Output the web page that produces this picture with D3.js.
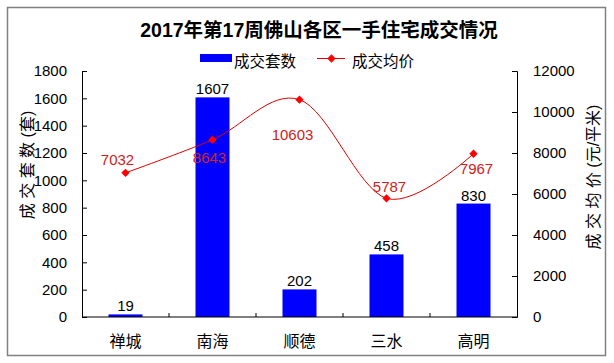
<!DOCTYPE html>
<html>
<head>
<meta charset="utf-8">
<script src="https://cdn.jsdelivr.net/npm/d3@7"></script>
<style>
  body { margin: 0; background: #fff; }
  text { font-family: "Liberation Sans", Arial, "Noto Sans CJK SC", sans-serif; }
</style>
</head>
<body>
<svg id="chart" width="614" height="363"></svg>
<script>
// data
let districts = ['禅城', '南海', '顺德', '三水', '高明'];
let deals = [19, 1607, 202, 458, 830];
let avgPrice = [7032, 8643, 10603, 5787, 7967];
let dealTicks = [0, 200, 400, 600, 800, 1000, 1200, 1400, 1600, 1800];
let priceTicks = [0, 2000, 4000, 6000, 8000, 10000, 12000];

let svg = d3.select('#chart');
let plotLeft = 82, plotRight = 517, plotTop = 71, plotBottom = 317;

// outer frame
svg.append('rect')
  .attr('x', 7.5).attr('y', 7.5)
  .attr('width', 598).attr('height', 348)
  .attr('fill', '#fff')
  .attr('stroke', '#808080')
  .attr('stroke-width', 1.5);

let x = d3.scaleBand()
  .domain(districts)
  .range([plotLeft, plotRight]);
let yDeal = d3.scaleLinear()
  .domain([0, 1800])
  .range([plotBottom, plotTop]);
let yPrice = d3.scaleLinear()
  .domain([0, 12000])
  .range([plotBottom, plotTop]);

// title
svg.append('text')
  .attr('x', 319).attr('y', 37)
  .attr('text-anchor', 'middle')
  .attr('font-size', 19.5)
  .attr('font-weight', 'bold')
  .text('2017年第17周佛山各区一手住宅成交情况');

// legend
let lg = svg.append('g');
lg.append('rect').attr('x', 200).attr('y', 54).attr('width', 32).attr('height', 8).attr('fill', '#0000ff');
lg.append('text').attr('x', 234).attr('y', 67).attr('font-size', 15.5).text('成交套数');
lg.append('line').attr('x1', 317).attr('x2', 345).attr('y1', 58.5).attr('y2', 58.5)
  .attr('stroke', '#e00000').attr('stroke-width', 1);
lg.append('path').attr('d', d3.symbol(d3.symbolDiamond2, 45)())
  .attr('transform', 'translate(331.5,58.5)').attr('fill', '#ff0000');
lg.append('text').attr('x', 352).attr('y', 67).attr('font-size', 15.5).text('成交均价');

// bars
let barW = 34;
svg.append('g')
  .selectAll('rect')
  .data(deals)
  .join('rect')
  .attr('x', function(d,i){return x(districts[i]) + x.bandwidth()/2 - barW/2})
  .attr('y', function(d){return yDeal(d)})
  .attr('width', barW)
  .attr('height', function(d){return plotBottom - yDeal(d)})
  .attr('fill', '#0000ff');

svg.append('g')
  .selectAll('text')
  .data(deals)
  .join('text')
  .attr('x', function(d,i){return x(districts[i]) + x.bandwidth()/2})
  .attr('y', function(d){return yDeal(d) - 3})
  .attr('text-anchor', 'middle')
  .attr('font-size', 15)
  .attr('fill', '#000')
  .text(function(d){return d});

// axes
let axL = svg.append('g')
  .attr('transform', 'translate(' + plotLeft + ',0)')
  .call(d3.axisRight(yDeal).tickValues(dealTicks).tickSize(5).tickFormat(d3.format('d')));
axL.selectAll('text').attr('x', -15).attr('text-anchor', 'end');
let axR = svg.append('g')
  .attr('transform', 'translate(' + plotRight + ',0)')
  .call(d3.axisLeft(yPrice).tickValues(priceTicks).tickSize(5).tickFormat(d3.format('d')));
axR.selectAll('text').attr('x', 16).attr('text-anchor', 'start');
[axL, axR].forEach(function(ax) {
  ax.select('.domain').attr('stroke', '#000');
  ax.selectAll('line').attr('stroke', '#000');
  ax.selectAll('text').attr('font-size', 15).attr('fill', '#000')
    .attr('font-family', '"Liberation Sans", Arial, sans-serif');
});

let axB = svg.append('g')
  .attr('transform', 'translate(0,' + plotBottom + ')');
axB.append('line').attr('x1', plotLeft).attr('x2', plotRight).attr('stroke', '#000');
axB.selectAll('line.tk')
  .data(districts.slice(1))
  .join('line')
  .attr('class', 'tk')
  .attr('x1', function(d){return x(d)})
  .attr('x2', function(d){return x(d)})
  .attr('y1', 0).attr('y2', -4)
  .attr('stroke', '#000');
axB.selectAll('text')
  .data(districts)
  .join('text')
  .attr('x', function(d){return x(d) + x.bandwidth()/2})
  .attr('y', 30)
  .attr('text-anchor', 'middle')
  .attr('font-size', 16)
  .text(function(d){return d});

// axis titles
svg.append('text')
  .attr('transform', 'translate(33,165) rotate(-90)')
  .attr('text-anchor', 'middle')
  .attr('font-size', 16)
  .text('成 交 套 数 (套)');
svg.append('text')
  .attr('transform', 'translate(599,177) rotate(-90)')
  .attr('text-anchor', 'middle')
  .attr('font-size', 16)
  .text('成 交 均 价 (元/平米)');

// price line
let cx = function(d,i){return x(districts[i]) + x.bandwidth()/2};
let line = d3.line()
  .x(cx)
  .y(function(d){return yPrice(d)})
  .curve(d3.curveCardinal.tension(0));
svg.append('path')
  .datum(avgPrice)
  .attr('d', line)
  .attr('fill', 'none')
  .attr('stroke', '#e00000')
  .attr('stroke-width', 1);

svg.append('g')
  .selectAll('path')
  .data(avgPrice)
  .join('path')
  .attr('d', d3.symbol(d3.symbolDiamond2, 45)())
  .attr('transform', function(d,i){return 'translate(' + cx(d,i) + ',' + yPrice(d) + ')'})
  .attr('fill', '#ff0000');

// label placement like the original (above / below the point)
let labelDy = [-8, 23, 40, -6, 20];
let labelDx = [-8, -3, -7, 3, 3];
svg.append('g')
  .selectAll('text')
  .data(avgPrice)
  .join('text')
  .attr('x', function(d,i){return cx(d,i) + labelDx[i]})
  .attr('y', function(d,i){return yPrice(d) + labelDy[i]})
  .attr('text-anchor', 'middle')
  .attr('font-size', 15)
  .attr('fill', '#d42020')
  .text(function(d){return d});
</script>
</body>
</html>
